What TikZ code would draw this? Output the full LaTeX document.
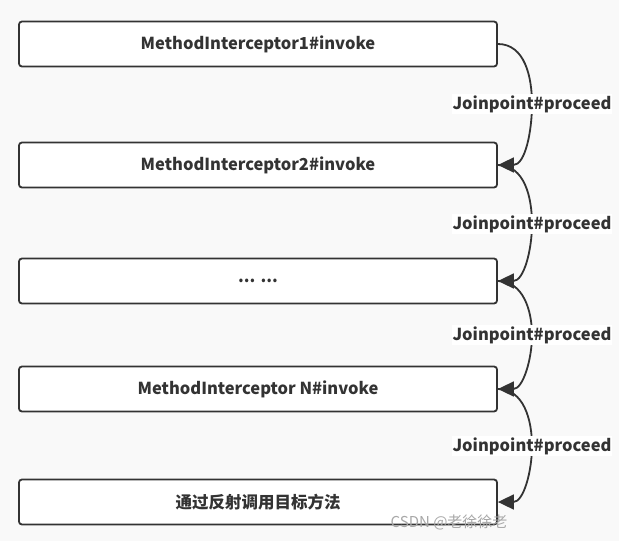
\documentclass[tikz,border=0pt]{standalone}
\usepackage{fontspec}
\setmainfont{Noto Sans CJK SC}
\usetikzlibrary{arrows.meta}
\definecolor{bgc}{HTML}{F9F9F9}
\definecolor{edge}{HTML}{333333}
\definecolor{wm}{HTML}{A8A8A8}
\begin{document}
\begin{tikzpicture}[x=1pt,y=-1pt,
  stepbox/.style={draw=edge,line width=1.8pt,fill=white,rounded corners=3pt,minimum width=478pt,minimum height=45pt,inner sep=0pt,font=\fontsize{16.5}{19}\selectfont\bfseries,text=edge},
  lbl/.style={fill=white,inner sep=1pt,font=\fontsize{16.5}{19}\selectfont\bfseries,text=edge},
  conn/.style={draw=edge,line width=1.8pt,-{Triangle[length=16pt,width=15pt,fill=edge]}}]
\useasboundingbox[fill=bgc] (0,0) rectangle (619,541);
\node[stepbox] (b1) at (258,44) {MethodInterceptor1\#invoke};
\node[stepbox] (b2) at (258,165) {MethodInterceptor2\#invoke};
\node[stepbox] (b3) at (258,281) {... ...};
\node[stepbox] (b4) at (258,389) {MethodInterceptor N\#invoke};
\node[stepbox] (b5) at (258,502) {通过反射调用目标方法};
\coordinate (m1) at (532,104);
\coordinate (m2) at (532,224);
\coordinate (m3) at (532,335);
\coordinate (m4) at (532,446);
\draw[conn] (b1.east) to[out=0,in=90] (m1) to[out=-90,in=0] (b2.east);
\draw[conn] (b2.east) to[out=0,in=90] (m2) to[out=-90,in=0] (b3.east);
\draw[conn] (b3.east) to[out=0,in=90] (m3) to[out=-90,in=0] (b4.east);
\draw[conn] (b4.east) to[out=0,in=90] (m4) to[out=-90,in=0] (b5.east);
\node[lbl] (l1) at (m1) {Joinpoint\#proceed};
\node[lbl] (l2) at (m2) {Joinpoint\#proceed};
\node[lbl] (l3) at (m3) {Joinpoint\#proceed};
\node[lbl] (l4) at (m4) {Joinpoint\#proceed};
\node[text=wm,font=\fontsize{15}{17}\selectfont,anchor=east] (wmk) at (511,522) {CSDN @老徐徐老};
\end{tikzpicture}
\end{document}
